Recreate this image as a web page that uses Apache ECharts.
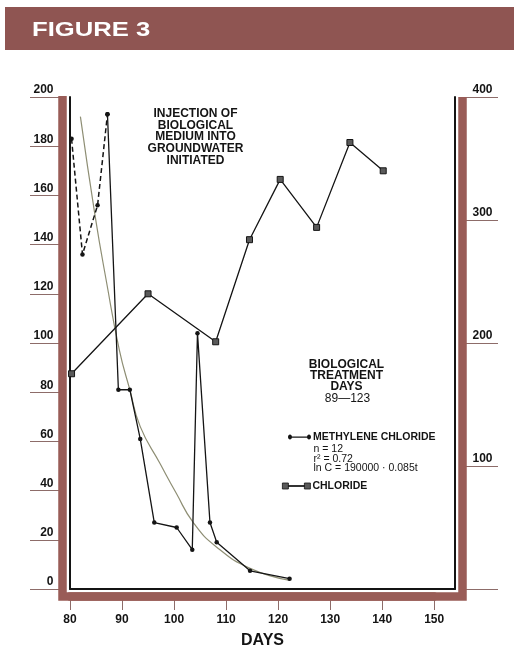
<!DOCTYPE html>
<html>
<head>
<meta charset="utf-8">
<script src="https://cdn.jsdelivr.net/npm/echarts@6/dist/echarts.min.js"></script>
<style>
  html, body { margin: 0; padding: 0; background: #ffffff; }
  #chart { width: 514px; height: 648px; }
</style>
</head>
<body>
<div id="chart"></div>
<script>
// ---- data -------------------------------------------------------------
const dayMin = 80, dayMax = 150;

// methylene chloride before treatment started (dashed)
const mcPreDays   = [80.3, 82.4, 85.3, 87.2];
const mcPreValues = [183, 136, 156, 193];

// methylene chloride during treatment (solid, n = 12)
const mcDays   = [87.2, 89.3, 91.5, 93.5, 96.2, 100.5, 103.5, 104.5, 106.9, 108.2, 114.6, 122.2];
const mcValues = [193, 81, 81, 61, 27, 25, 16, 104, 27, 19, 7.4, 4.2];

// fitted decay curve
const fitDays   = [82, 84.8, 87, 89.5, 91.5, 93.5, 97.3, 100.4, 103.7, 108.2, 114.6, 122.3];
const fitValues = [192, 152, 125, 97, 81, 66, 51, 39, 27, 17, 8.4, 3.5];

// chloride (right axis)
const clDays   = [80.3, 95, 108, 114.5, 120.4, 127.4, 133.8, 140.2];
const clValues = [175, 240, 201, 284, 333, 294, 363, 340];

// ---- layout / style ---------------------------------------------------
const W = 514, H = 648;
// inner (black) box of the tank and the narrower data area inside it
const BOX = { left: 70, right: 59, top: 97, bottom: 59 };
const DATA_RIGHT = 79.8;
const FRAME_OFF = 7.5;
const FRAME_W = 8.5;
const BROWN = '#995c57';
const TICK = '#8d6c69';
const INK = '#141414';
const FONT = '"Liberation Sans", Arial, Helvetica, sans-serif';

const pair = (xs, ys) => xs.map((x, i) => [x, ys[i]]);

function circlePath(cx, cy, r) {
  const k = 0.5523 * r;
  return `M${cx - r},${cy}C${cx - r},${cy - k} ${cx - k},${cy - r} ${cx},${cy - r}` +
         `C${cx + k},${cy - r} ${cx + r},${cy - k} ${cx + r},${cy}` +
         `C${cx + r},${cy + k} ${cx + k},${cy + r} ${cx},${cy + r}` +
         `C${cx - k},${cy + r} ${cx - r},${cy + k} ${cx - r},${cy}Z`;
}
const mcIcon = 'path://' + circlePath(2, 2.5, 2) + circlePath(21, 2.5, 2) + 'M2,2H21V3H2Z';
const clIcon = 'path://M0,0H6V6H0Z M22,0H28V6H22Z M6,2.5H22V3.5H6Z';

const frameLeft = BOX.left - FRAME_OFF;
const frameRight = W - BOX.right + FRAME_OFF;
const frameBottom = H - BOX.bottom + FRAME_OFF;

const labelStyle = { fontFamily: FONT, fontSize: 12, fontWeight: 'bold', color: INK };
const hiddenParts = { axisTick: { show: false }, axisLabel: { show: false }, splitLine: { show: false } };

const chart = echarts.init(document.getElementById('chart'), null, { renderer: 'canvas' });

chart.setOption({
  backgroundColor: '#ffffff',
  animation: false,
  grid: [
    { left: BOX.left, right: DATA_RIGHT, top: BOX.top, bottom: BOX.bottom, containLabel: false, outerBoundsMode: 'none' },
    { left: BOX.left, right: BOX.right, top: BOX.top, bottom: BOX.bottom, containLabel: false, outerBoundsMode: 'none' }
  ],
  xAxis: [
    {
      gridIndex: 0, type: 'value', min: dayMin, max: dayMax, interval: 10,
      position: 'bottom', offset: FRAME_OFF,
      axisLine: { show: true, onZero: false, lineStyle: { color: BROWN, width: FRAME_W } },
      axisTick: { show: true, inside: false, length: 13.5, lineStyle: { color: TICK, width: 1 } },
      axisLabel: { ...labelStyle, margin: 17 },
      splitLine: { show: false }
    },
    {
      gridIndex: 1, type: 'value', min: 0, max: 1, position: 'bottom', offset: 0,
      name: 'DAYS', nameLocation: 'middle', nameGap: 52,
      nameTextStyle: { fontFamily: FONT, fontSize: 16, fontWeight: 'bold', color: INK, verticalAlign: 'middle' },
      axisLine: { show: true, onZero: false, lineStyle: { color: INK, width: 2 } },
      ...hiddenParts
    }
  ],
  yAxis: [
    {
      gridIndex: 0, type: 'value', min: 0, max: 200, interval: 20, position: 'left', offset: FRAME_OFF,
      axisLine: { show: false },
      axisTick: { show: true, length: 32.5, lineStyle: { color: TICK, width: 1 } },
      axisLabel: { ...labelStyle, margin: 9, verticalAlign: 'bottom', lineHeight: 14 },
      splitLine: { show: false }
    },
    {
      gridIndex: 0, type: 'value', min: 0, max: 400, interval: 100, position: 'right',
      offset: DATA_RIGHT - BOX.right + FRAME_OFF,
      axisLine: { show: false },
      axisTick: { show: true, length: 35.5, lineStyle: { color: TICK, width: 1 } },
      axisLabel: {
        ...labelStyle, margin: 10, verticalAlign: 'bottom', lineHeight: 14,
        formatter: v => (v === 0 ? '' : String(v))
      },
      splitLine: { show: false }
    },
    {
      gridIndex: 1, type: 'value', min: 0, max: 1, position: 'left', offset: 0,
      axisLine: { show: true, onZero: false, lineStyle: { color: INK, width: 2 } },
      ...hiddenParts
    },
    {
      gridIndex: 1, type: 'value', min: 0, max: 1, position: 'right', offset: 0,
      axisLine: { show: true, onZero: false, lineStyle: { color: INK, width: 2 } },
      ...hiddenParts
    }
  ],
  legend: [
    {
      data: ['METHYLENE CHLORIDE'], left: 288, top: 431, padding: 0, selectedMode: false,
      icon: mcIcon, itemWidth: 23, itemHeight: 5, itemGap: 0, symbolKeepAspect: false,
      itemStyle: { color: INK, borderWidth: 0 },
      textStyle: { fontFamily: FONT, fontSize: 10.5, fontWeight: 'bold', color: INK, lineHeight: 12, padding: [0, 0, 0, -3] }
    },
    {
      data: ['CHLORIDE'], left: 282, top: 480, padding: 0, selectedMode: false,
      icon: clIcon, itemWidth: 28, itemHeight: 6, itemGap: 0, symbolKeepAspect: false,
      itemStyle: { color: '#5a5a5a', borderColor: INK, borderWidth: 0.8 },
      textStyle: { fontFamily: FONT, fontSize: 10.5, fontWeight: 'bold', color: INK, lineHeight: 12, padding: [0, 0, 0, -3] }
    }
  ],
  series: [
    {
      name: 'fit', type: 'line', xAxisIndex: 0, yAxisIndex: 0,
      data: pair(fitDays, fitValues), smooth: 0.5, showSymbol: false, silent: true,
      lineStyle: { color: '#8e8e74', width: 1.2 }, z: 2
    },
    {
      name: 'METHYLENE CHLORIDE (pre)', type: 'line', xAxisIndex: 0, yAxisIndex: 0,
      data: pair(mcPreDays, mcPreValues), symbol: 'circle', symbolSize: 4.5,
      itemStyle: { color: INK, borderWidth: 0 },
      lineStyle: { color: INK, width: 1.5, type: [5, 3] }, z: 3
    },
    {
      name: 'METHYLENE CHLORIDE', type: 'line', xAxisIndex: 0, yAxisIndex: 0,
      data: pair(mcDays, mcValues), symbol: 'circle', symbolSize: 4.5,
      itemStyle: { color: INK, borderWidth: 0 },
      lineStyle: { color: INK, width: 1.3 }, z: 4
    },
    {
      name: 'CHLORIDE', type: 'line', xAxisIndex: 0, yAxisIndex: 1,
      data: pair(clDays, clValues), symbol: 'rect', symbolSize: 6,
      itemStyle: { color: '#5a5a5a', borderColor: INK, borderWidth: 1 },
      lineStyle: { color: INK, width: 1.3 }, z: 5
    }
  ],
  graphic: [
    // title band
    { type: 'rect', silent: true, shape: { x: 5, y: 7, width: W - 5, height: 43 }, style: { fill: '#8f5552' } },
    {
      type: 'text', silent: true, x: 32, y: 30, scaleX: 1.22,
      style: { text: 'FIGURE 3', fill: '#ffffff', font: 'bold 21px ' + FONT,
               align: 'left', textAlign: 'left', verticalAlign: 'middle', textVerticalAlign: 'middle' }
    },
    // brown tank walls (left, bottom corners, right)
    {
      type: 'polyline', silent: true, z: 20,
      shape: { points: [[frameLeft, BOX.top - 1], [frameLeft, frameBottom], [frameRight, frameBottom], [frameRight, BOX.top]] },
      style: { stroke: BROWN, lineWidth: FRAME_W, fill: null, lineJoin: 'miter', lineCap: 'butt' }
    },
    // annotations
    {
      type: 'text', silent: true, x: 195.5, y: 107.5,
      style: { text: 'INJECTION OF\nBIOLOGICAL\nMEDIUM INTO\nGROUNDWATER\nINITIATED',
               fill: INK, font: 'bold 12px ' + FONT, lineHeight: 11.8,
               align: 'center', textAlign: 'center', verticalAlign: 'top', textVerticalAlign: 'top' }
    },
    {
      type: 'text', silent: true, x: 346.5, y: 359.5,
      style: { text: 'BIOLOGICAL\nTREATMENT\nDAYS',
               fill: INK, font: 'bold 12px ' + FONT, lineHeight: 11,
               align: 'center', textAlign: 'center', verticalAlign: 'top', textVerticalAlign: 'top' }
    },
    {
      type: 'text', silent: true, x: 347.5, y: 398.3,
      style: { text: '89—123', fill: INK, font: '12px ' + FONT,
               align: 'center', textAlign: 'center', verticalAlign: 'middle', textVerticalAlign: 'middle' }
    },
    {
      type: 'text', silent: true, x: 313.5, y: 444,
      style: { text: 'n = 12\nr² = 0.72\nln C = 190000 · 0.085t',
               fill: INK, font: '10.5px ' + FONT, lineHeight: 9.8,
               align: 'left', textAlign: 'left', verticalAlign: 'top', textVerticalAlign: 'top' }
    }
  ]
});
</script>
</body>
</html>
